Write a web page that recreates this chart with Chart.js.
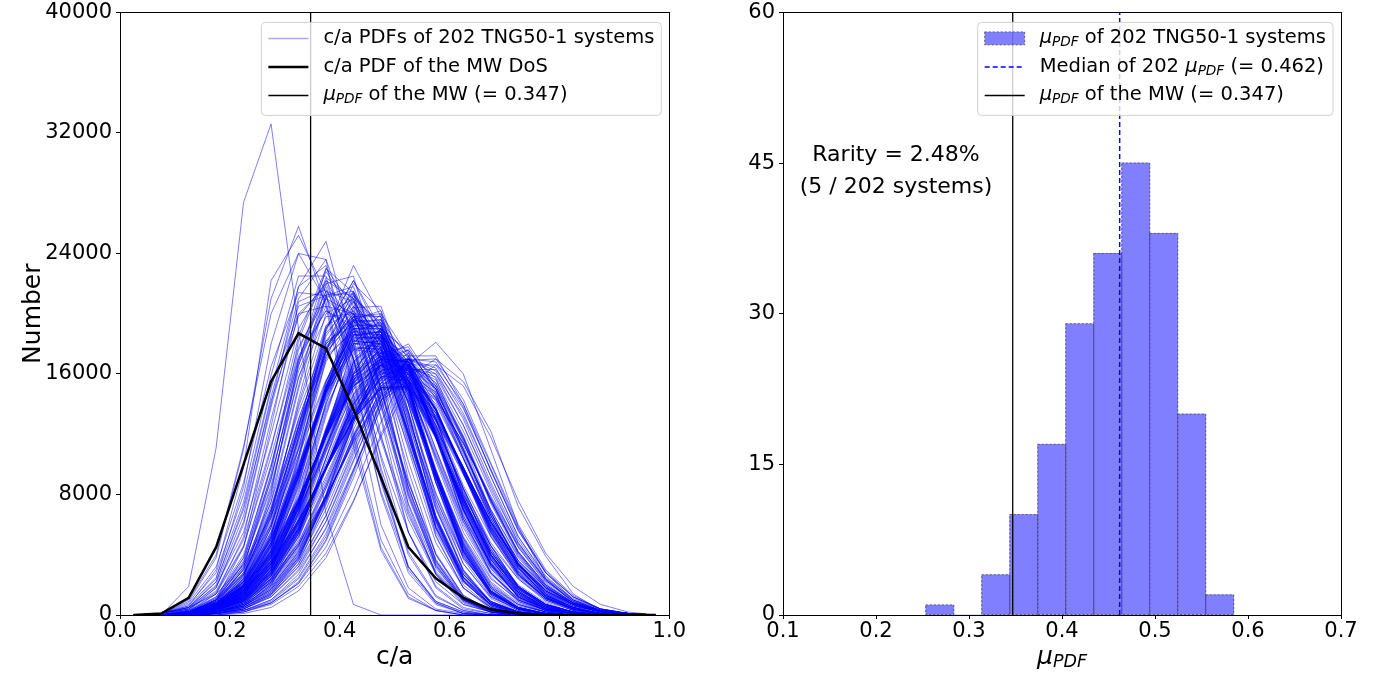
<!DOCTYPE html>
<html>
<head>
<meta charset="utf-8">
<script src="https://cdn.jsdelivr.net/npm/chart.js@4.4.1/dist/chart.umd.min.js"></script>
<style>
  body { margin: 0; background: #fff; }
  #wrap { position: relative; width: 1388px; height: 677px; }
  canvas { position: absolute; top: 0; }
</style>
</head>
<body>
<div id="wrap">
  <canvas id="pdfChart" width="690" height="677" style="left:0"></canvas>
  <canvas id="muChart" width="698" height="677" style="left:690px"></canvas>
</div>
<script>
// c/a bin centres shared by every PDF
var binCenters = [0.025, 0.075, 0.125, 0.175, 0.225, 0.275, 0.325, 0.375, 0.425, 0.475,
                  0.525, 0.575, 0.625, 0.675, 0.725, 0.775, 0.825, 0.875, 0.925, 0.975];

// PDF of the MW disc of satellites
var mwCurve = [0, 100, 1140, 4500, 10000, 15500, 18700, 17700, 13660, 9130,
               4510, 2440, 1140, 375, 100, 0, 0, 0, 0, 0];

// PDFs of the 202 TNG50-1 systems, counts in hundreds per bin
var curveUnit = 100;
var systemCurves = [
  [0,0,19,111,274,326,190,67,7,0,0,0,0,0,0,0,0,0,0,0],
  [0,1,9,38,110,210,258,205,112,43,11,3,0,0,0,0,0,0,0,0],
  [0,1,6,30,98,222,252,214,117,45,12,3,0,0,0,0,0,0,0,0],
  [0,1,5,24,85,180,240,236,146,60,18,4,1,0,0,0,0,0,0,0],
  [0,1,10,40,112,200,240,208,122,50,14,3,0,0,0,0,0,0,0,0],
  [0,1,7,28,80,159,225,225,159,80,28,7,1,0,0,0,0,0,0,0],
  [0,0,5,22,72,150,218,232,170,88,32,9,2,0,0,0,0,0,0,0],
  [0,1,8,32,88,165,214,212,155,82,32,9,2,0,0,0,0,0,0,0],
  [0,0,4,20,66,145,210,236,185,95,30,8,1,0,0,0,0,0,0,0],
  [0,1,6,25,75,152,200,218,170,98,40,12,3,0,0,0,0,0,0,0],
  [0,0,3,18,62,140,218,248,180,90,32,8,1,0,0,0,0,0,0,0],
  [0,1,5,22,70,142,198,220,180,104,42,13,3,0,0,0,0,0,0,0],
  [0,0,1,10,45,125,208,216,176,116,63,27,10,3,0,0,0,0,0,0],
  [0,0,2,14,52,130,200,205,170,118,66,29,10,3,1,0,0,0,0,0],
  [0,1,4,18,60,138,205,212,170,106,55,22,7,2,0,0,0,0,0,0],
  [0,1,5,19,55,120,190,222,190,120,55,19,5,1,0,0,0,0,0,0],
  [0,0,2,10,34,84,157,213,213,157,84,34,10,2,0,0,0,0,0,0],
  [0,0,3,14,45,110,185,230,205,130,55,18,4,1,0,0,0,0,0,0],
  [0,0,2,12,40,98,170,215,208,145,70,28,9,2,1,0,0,0,0,0],
  [0,1,4,16,50,112,178,210,192,132,68,27,8,2,0,0,0,0,0,0],
  [0,0,2,9,30,78,152,220,225,160,80,32,9,2,1,0,0,0,0,0],
  [0,0,3,12,38,92,162,205,200,150,85,37,12,3,1,0,0,0,0,0],
  [0,0,2,11,36,90,168,224,210,150,73,27,7,2,0,0,0,0,0,0],
  [0,0,4,15,46,105,172,202,192,140,78,33,10,3,0,0,0,0,0,0],
  [0,0,1,8,28,75,150,212,218,170,90,36,10,2,0,0,0,0,0,0],
  [0,0,2,10,34,86,158,198,200,160,96,40,13,3,0,0,0,0,0,0],
  [0,0,1,7,31,94,182,228,201,138,74,31,10,3,0,0,0,0,0,0],
  [0,0,2,9,35,98,176,215,196,140,80,35,11,3,0,0,0,0,0,0],
  [0,0,1,5,24,80,168,230,214,150,82,33,10,2,0,0,0,0,0,0],
  [0,0,2,10,38,100,170,202,190,143,88,41,13,3,0,0,0,0,0,0],
  [0,0,1,6,26,82,165,222,210,152,85,36,11,3,1,0,0,0,0,0],
  [0,0,1,8,32,90,166,210,200,150,88,40,12,2,0,0,0,0,0,0],
  [0,0,2,9,27,65,121,176,200,176,121,65,27,9,2,0,0,0,0,0],
  [0,0,1,6,22,60,125,190,215,180,115,55,22,7,2,0,0,0,0,0],
  [0,0,2,8,26,68,130,180,196,170,118,64,27,9,2,0,0,0,0,0],
  [0,0,1,5,18,52,115,190,222,190,120,57,22,7,1,0,0,0,0,0],
  [0,0,2,10,30,72,128,172,188,170,122,66,28,9,2,0,0,0,0,0],
  [0,0,1,7,24,62,122,182,205,178,122,63,25,7,1,0,0,0,0,0],
  [0,0,3,11,32,75,135,182,192,163,112,59,26,8,2,0,0,0,0,0],
  [0,0,1,5,20,55,118,185,212,188,125,58,23,7,2,0,0,0,0,0],
  [0,0,2,9,28,68,126,178,198,174,120,62,25,8,1,0,0,0,0,0],
  [0,0,1,6,21,58,120,187,208,182,126,62,22,6,1,0,0,0,0,0],
  [0,0,2,8,25,64,124,178,202,178,124,62,24,7,1,0,0,0,0,0],
  [0,0,1,4,16,48,110,188,232,198,125,53,18,5,1,0,0,0,0,0],
  [0,0,2,9,27,66,122,170,190,176,128,70,30,8,2,0,0,0,0,0],
  [0,0,1,5,19,53,112,176,210,194,135,65,23,6,1,0,0,0,0,0],
  [0,0,2,7,23,60,118,176,200,184,130,66,25,7,1,0,0,0,0,0],
  [0,0,1,6,20,54,110,168,198,188,140,74,30,9,2,0,0,0,0,0],
  [0,0,2,10,30,70,125,175,195,172,120,64,27,8,2,0,0,0,0,0],
  [0,0,1,5,17,47,104,175,220,202,135,64,23,5,1,0,0,0,0,0],
  [0,0,1,7,22,58,116,174,196,182,133,71,29,8,2,0,0,0,0,0],
  [0,0,1,4,20,65,143,211,215,167,102,48,18,5,1,0,0,0,0,0],
  [0,0,0,3,13,43,102,172,205,185,135,81,39,15,5,1,0,0,0,0],
  [0,0,1,5,22,68,140,200,210,170,110,52,18,4,0,0,0,0,0,0],
  [0,0,0,3,14,46,106,176,208,182,130,77,38,15,4,1,0,0,0,0],
  [0,0,1,6,24,70,138,192,202,170,114,58,20,5,0,0,0,0,0,0],
  [0,0,1,4,16,52,118,190,222,185,118,58,25,9,2,0,0,0,0,0],
  [0,0,0,2,10,38,96,170,212,192,140,80,38,16,5,1,0,0,0,0],
  [0,0,1,5,19,58,125,192,214,176,118,60,24,7,1,0,0,0,0,0],
  [0,0,1,7,26,70,130,180,198,172,120,64,25,6,1,0,0,0,0,0],
  [0,0,0,3,12,42,104,180,214,188,132,75,34,12,4,0,0,0,0,0],
  [0,0,1,5,16,43,91,151,193,193,151,91,43,16,5,1,0,0,0,0],
  [0,0,2,8,22,51,95,144,177,177,144,95,51,22,8,2,0,0,0,0],
  [0,0,1,4,14,40,88,150,198,200,154,92,40,14,4,1,0,0,0,0],
  [0,0,2,7,20,48,92,145,182,185,150,97,47,18,5,1,0,0,0,0],
  [0,0,1,5,17,45,94,155,196,190,146,88,42,15,4,1,0,0,0,0],
  [0,0,1,6,19,48,96,150,186,186,148,93,45,16,5,1,0,0,0,0],
  [0,0,2,8,22,52,98,148,178,176,142,94,50,20,7,2,0,0,0,0],
  [0,0,1,4,13,38,86,152,204,205,155,88,37,12,3,1,0,0,0,0],
  [0,0,1,5,16,44,92,150,190,192,152,93,44,15,4,1,0,0,0,0],
  [0,0,2,7,21,50,96,146,180,182,146,93,48,19,7,2,0,0,0,0],
  [0,0,1,5,15,42,90,154,200,198,150,88,40,13,3,0,0,0,0,0],
  [0,0,1,6,18,47,95,152,188,188,148,91,44,16,4,1,0,0,0,0],
  [0,0,2,8,23,53,99,148,176,174,142,95,51,21,7,2,0,0,0,0],
  [0,0,1,4,14,39,86,148,196,202,158,94,41,13,3,1,0,0,0,0],
  [0,0,1,6,18,46,93,150,190,190,150,92,43,15,4,1,0,0,0,0],
  [0,0,2,7,20,49,95,148,184,184,148,95,46,17,5,1,0,0,0,0],
  [0,0,1,5,16,43,90,150,195,196,152,92,42,14,4,1,0,0,0,0],
  [0,0,2,8,22,51,97,147,180,178,144,94,49,19,6,2,0,0,0,0],
  [0,0,1,4,15,41,88,151,198,198,152,90,42,14,4,1,0,0,0,0],
  [0,0,1,6,19,48,94,149,186,188,150,93,45,15,4,1,0,0,0,0],
  [0,0,2,7,21,50,97,150,182,180,146,93,47,18,5,1,0,0,0,0],
  [0,0,1,5,17,45,92,152,192,192,150,91,43,15,4,1,0,0,0,0],
  [0,0,1,6,18,46,93,148,185,188,152,95,46,16,4,1,0,0,0,0],
  [0,0,0,2,8,29,72,134,183,186,156,110,66,33,14,5,1,0,0,0],
  [0,1,5,14,33,66,110,156,186,183,134,72,29,8,2,0,0,0,0,0],
  [0,0,1,3,10,32,76,136,180,182,152,108,64,34,15,6,1,0,0,0],
  [0,0,2,10,28,60,106,155,188,186,140,78,34,11,2,0,0,0,0,0],
  [0,0,0,2,7,26,68,132,188,194,160,110,62,31,13,5,2,0,0,0],
  [0,0,1,6,20,50,98,152,190,190,145,88,42,14,4,0,0,0,0,0],
  [0,0,1,4,13,36,80,140,184,184,150,105,60,28,11,3,1,0,0,0],
  [0,0,1,5,16,40,84,138,176,180,152,106,62,28,9,2,1,0,0,0],
  [0,0,0,3,11,34,82,146,196,194,148,96,52,24,10,3,1,0,0,0],
  [0,0,2,8,24,55,100,150,182,180,142,90,46,16,4,1,0,0,0,0],
  [0,0,1,3,10,30,74,140,192,192,154,104,58,27,11,3,1,0,0,0],
  [0,0,1,5,18,46,92,148,186,188,150,96,48,18,4,0,0,0,0,0],
  [0,0,0,2,9,30,76,142,194,196,156,102,55,25,9,3,1,0,0,0],
  [0,0,1,4,14,35,72,120,164,181,164,120,72,35,14,4,1,0,0,0],
  [0,0,2,7,19,41,76,118,152,166,152,118,76,41,19,7,2,0,0,0],
  [0,0,1,3,11,30,66,118,168,188,168,122,70,34,13,4,1,0,0,0],
  [0,0,2,6,17,38,74,120,158,172,156,118,74,38,17,6,2,0,0,0],
  [0,0,1,5,15,36,72,118,160,176,162,122,74,37,15,5,1,0,0,0],
  [0,0,2,8,20,43,78,118,150,162,150,118,78,43,20,8,2,1,0,0],
  [0,0,1,4,13,34,71,122,166,184,166,118,70,34,12,4,1,0,0,0],
  [0,0,1,5,16,38,75,121,160,172,156,118,74,39,16,5,1,0,0,0],
  [0,0,2,7,18,40,76,119,154,166,154,119,76,40,18,7,2,0,0,0],
  [0,0,1,4,12,32,70,124,170,186,164,118,69,33,12,4,1,0,0,0],
  [0,0,1,5,15,37,74,120,162,176,160,120,73,37,15,5,1,0,0,0],
  [0,0,2,6,17,39,75,118,156,170,156,119,76,40,17,6,2,0,0,0],
  [0,0,1,3,11,30,67,122,172,190,166,118,68,32,12,4,1,0,0,0],
  [0,0,2,7,19,42,78,120,152,164,150,117,77,42,19,7,2,1,0,0],
  [0,0,1,4,14,35,73,121,164,180,163,120,71,35,13,4,1,0,0,0],
  [0,0,1,5,16,39,76,120,158,170,157,120,76,40,17,6,2,0,0,0],
  [0,0,1,4,13,33,70,121,167,185,166,120,70,34,12,3,1,0,0,0],
  [0,0,2,7,18,41,77,119,155,168,154,118,75,40,18,7,2,0,0,0],
  [0,0,1,5,15,36,73,121,163,178,162,120,72,36,14,4,1,0,0,0],
  [0,0,2,6,18,40,76,120,156,168,155,119,76,40,17,6,2,0,0,0],
  [0,0,1,4,12,33,71,123,168,184,165,119,70,33,12,4,1,0,0,0],
  [0,0,1,5,16,38,75,120,160,174,158,119,74,39,16,5,1,0,0,0],
  [0,0,1,3,10,28,64,122,178,196,170,118,64,29,10,3,1,0,0,0],
  [0,0,1,4,12,31,68,124,174,190,168,117,66,31,10,3,1,0,0,0],
  [0,0,1,3,9,26,62,120,180,200,172,120,64,28,10,3,1,0,0,0],
  [0,0,1,4,13,34,72,122,165,182,165,120,70,34,12,4,1,0,0,0],
  [0,0,1,5,15,37,74,121,161,175,160,120,73,37,15,5,1,0,0,0],
  [0,0,2,7,19,42,77,119,153,165,152,118,77,42,19,7,2,0,0,0],
  [0,0,1,4,12,32,70,122,168,186,166,120,70,33,12,3,1,0,0,0],
  [0,0,0,2,7,22,54,101,146,166,156,129,93,60,34,17,7,3,1,0],
  [0,0,3,8,19,39,70,109,147,170,168,131,79,37,14,4,1,0,0,0],
  [0,0,0,2,6,20,50,98,146,172,162,130,94,58,34,17,7,3,1,0],
  [0,0,1,5,15,36,72,118,158,174,160,122,78,38,16,5,2,0,0,0],
  [0,0,0,3,10,28,62,110,156,178,164,124,80,46,24,10,4,1,0,0],
  [0,0,2,6,16,36,68,112,152,170,162,126,82,42,18,6,2,0,0,0],
  [0,0,0,2,8,24,58,108,156,185,172,130,80,44,18,7,2,1,0,0],
  [0,0,1,4,12,30,64,112,156,176,164,126,82,44,19,7,2,0,0,0],
  [0,0,0,1,6,20,52,104,160,190,175,130,80,46,19,7,2,0,0,0],
  [0,0,1,4,14,34,68,114,154,170,160,126,84,46,18,5,2,0,0,0],
  [0,0,0,2,8,24,56,104,150,174,166,130,86,52,26,12,4,1,0,0],
  [0,0,1,3,10,28,62,112,160,190,174,122,78,40,15,4,1,0,0,0],
  [0,0,2,7,18,40,74,116,152,166,156,124,84,40,16,4,1,0,0,0],
  [0,0,0,2,7,22,54,104,154,178,166,128,84,48,24,9,3,1,0,0],
  [0,0,1,4,13,32,66,112,154,172,162,126,84,46,19,6,2,0,0,0],
  [0,0,0,3,9,26,60,110,158,182,168,124,78,42,18,6,2,0,0,0],
  [0,0,1,4,12,29,57,97,137,163,163,137,97,57,29,12,4,1,0,0],
  [0,0,2,7,16,34,62,97,130,151,151,130,97,62,34,16,7,2,0,0],
  [0,0,1,3,10,26,55,98,142,170,168,136,94,54,27,11,4,1,0,0],
  [0,0,1,5,14,32,60,98,134,156,156,134,98,60,32,14,5,1,0,0],
  [0,0,1,4,11,27,56,98,140,166,164,137,96,56,28,11,4,1,0,0],
  [0,0,2,6,15,33,61,98,132,152,152,132,98,62,34,15,6,2,1,0],
  [0,0,1,3,9,24,52,96,144,174,172,138,94,52,25,10,3,1,0,0],
  [0,0,1,4,13,30,58,97,136,160,160,136,97,58,30,13,4,1,0,0],
  [0,0,2,7,17,35,63,98,130,150,150,129,96,61,33,16,7,2,1,0],
  [0,0,1,4,11,28,57,98,139,165,163,136,96,57,28,11,4,1,0,0],
  [0,0,1,5,14,31,59,97,134,158,158,135,98,59,31,13,5,1,0,0],
  [0,0,1,3,10,25,54,98,143,172,168,136,94,53,26,11,4,1,0,0],
  [0,0,2,6,16,34,62,98,131,151,151,131,98,62,34,16,6,2,0,0],
  [0,0,1,4,12,29,58,98,138,162,162,136,96,57,29,12,4,1,0,0],
  [0,0,1,5,15,33,61,97,132,154,154,133,98,61,33,15,5,1,0,0],
  [0,0,1,3,10,26,55,97,141,170,168,137,95,55,27,10,3,1,0,0],
  [0,0,2,6,16,34,62,97,130,151,152,132,98,62,33,15,6,2,1,0],
  [0,0,1,4,12,28,57,98,139,166,164,136,95,56,28,11,4,1,0,0],
  [0,0,1,5,14,32,60,98,135,157,156,134,97,59,31,13,5,1,0,0],
  [0,0,1,3,11,27,56,98,140,168,166,136,95,55,27,11,4,1,0,0],
  [0,0,2,7,17,35,63,97,130,150,150,130,97,62,34,16,7,2,0,0],
  [0,0,1,4,13,30,58,97,137,161,161,136,97,58,30,12,4,1,0,0],
  [0,0,1,5,14,31,60,98,135,158,158,134,97,59,31,13,5,1,0,0],
  [0,0,1,4,11,27,57,99,140,167,165,136,95,55,27,11,4,1,0,0],
  [0,0,0,1,4,14,37,79,131,168,170,147,109,70,39,19,8,3,1,0],
  [0,0,1,2,8,20,43,79,123,159,174,157,115,69,33,13,4,1,0,0],
  [0,0,0,2,6,17,40,80,128,164,170,146,108,70,38,18,7,3,1,0],
  [0,0,1,3,9,22,46,84,126,158,166,150,112,68,34,14,5,1,0,0],
  [0,0,0,1,5,15,38,80,134,174,178,148,104,62,33,16,7,3,1,0],
  [0,0,1,4,11,26,52,90,132,160,164,142,104,64,32,12,4,1,0,0],
  [0,0,0,2,5,16,38,78,128,166,176,150,110,66,35,16,6,2,1,0],
  [0,0,1,3,10,24,48,86,128,158,164,146,110,68,34,14,5,1,0,0],
  [0,0,0,1,4,13,34,74,128,170,180,152,110,68,36,18,8,3,1,0],
  [0,0,1,3,9,23,48,88,132,162,166,144,106,64,34,14,4,1,0,0],
  [0,0,0,2,6,18,42,84,132,166,170,144,104,66,36,18,8,3,1,0],
  [0,0,1,4,12,28,54,92,132,158,160,140,104,64,32,13,5,1,0,0],
  [0,0,0,1,5,14,36,78,130,170,176,150,108,66,36,18,8,3,1,0],
  [0,0,1,2,8,21,46,86,130,162,170,150,110,66,32,12,3,1,0,0],
  [0,0,0,2,7,19,41,76,118,152,166,152,118,76,41,19,7,2,0,0],
  [0,0,1,4,11,24,47,79,114,143,153,143,114,79,47,24,11,4,1,0],
  [0,0,0,1,4,12,29,57,97,137,163,163,137,97,57,29,12,4,1,0],
  [0,0,0,2,6,17,39,75,120,156,170,154,118,74,40,18,7,2,1,0],
  [0,0,1,3,9,22,45,78,116,146,160,145,114,77,45,22,9,3,1,0],
  [0,0,0,2,7,18,40,76,119,154,168,152,117,75,41,19,7,2,0,0],
  [0,0,0,2,5,15,34,66,108,145,164,158,126,86,48,23,9,3,1,0],
  [0,0,1,3,10,23,46,79,115,145,155,144,114,78,46,23,10,3,1,0],
  [0,0,0,2,7,19,42,77,119,152,164,150,117,76,42,20,8,2,1,0],
  [0,0,0,1,5,14,32,62,103,142,164,160,132,92,52,25,10,3,1,0],
  [0,0,1,3,9,21,44,77,116,148,160,148,116,76,42,20,8,3,1,0],
  [0,0,0,2,6,17,38,73,117,154,168,154,119,77,42,20,8,2,1,0],
  [0,0,0,2,6,16,36,70,112,150,166,156,122,82,45,21,8,3,1,0],
  [0,0,0,1,2,8,21,49,91,138,169,170,143,101,60,30,13,4,1,0],
  [0,0,0,1,3,10,25,54,96,140,166,166,140,100,58,28,10,3,0,0],
  [0,0,0,1,4,12,30,62,106,148,170,162,130,88,50,24,9,3,1,0],
  [0,0,0,0,2,8,22,50,94,142,172,172,140,96,56,28,12,4,1,0],
  [0,0,0,1,4,13,32,66,110,150,170,160,126,84,48,23,9,3,1,0],
  [0,0,0,1,3,9,24,52,96,142,170,168,138,96,56,28,12,4,1,0],
  [0,0,0,1,3,10,27,58,102,146,170,164,134,92,52,26,10,4,1,0],
  [0,0,0,0,2,7,19,41,76,118,152,166,152,118,76,41,19,7,2,0],
  [0,0,0,0,3,8,21,45,83,128,166,181,160,110,59,24,8,2,0,0],
  [0,0,0,0,1,5,16,38,75,120,158,170,155,122,72,39,14,3,1,0]
];

var mwMu = 0.347;
var medianMu = 0.462;

// histogram of mu_PDF over the 202 systems
var muBinCenters = [0.2686, 0.2987, 0.3288, 0.3589, 0.3890, 0.4191,
                    0.4492, 0.4793, 0.5094, 0.5395, 0.5696];
var muCounts = [1, 0, 4, 10, 17, 29, 36, 45, 38, 20, 2];

// axis ticks
var caTicks = [0, 0.2, 0.4, 0.6, 0.8, 1.0];
var numberTicks = [0, 8000, 16000, 24000, 32000, 40000];
var muTicks = [0.1, 0.2, 0.3, 0.4, 0.5, 0.6, 0.7];
var countTicks = [0, 15, 30, 45, 60];

var FONT = '"DejaVu Sans", sans-serif';
Chart.defaults.font.family = FONT;
Chart.defaults.color = '#000';
Chart.defaults.animation = false;

// text with an italic mu and subscript "PDF"
function richParts(before, after) {
  var p = [];
  if (before) p.push({t: before});
  p.push({t: 'μ', it: true}, {t: 'PDF', it: true, sub: true});
  if (after) p.push({t: after});
  return p;
}

function drawRich(ctx, parts, x, y, size, measureOnly) {
  var x0 = x;
  parts.forEach(function (p) {
    var fs = p.sub ? size * 0.7 : size;
    ctx.font = (p.it ? 'italic ' : '') + fs + 'px ' + FONT;
    if (!measureOnly) ctx.fillText(p.t, x, y + (p.sub ? size * 0.22 : 0));
    x += ctx.measureText(p.t).width;
  });
  return x - x0;
}

function roundBox(ctx, x, y, w, h, r) {
  ctx.beginPath();
  ctx.moveTo(x + r, y);
  ctx.arcTo(x + w, y, x + w, y + h, r);
  ctx.arcTo(x + w, y + h, x, y + h, r);
  ctx.arcTo(x, y + h, x, y, r);
  ctx.arcTo(x, y, x + w, y, r);
  ctx.closePath();
}

// legend box in the upper right of the plot area
function drawLegend(chart, entries) {
  var ctx = chart.ctx, area = chart.chartArea, size = 19.5;
  ctx.save();
  ctx.textBaseline = 'middle';
  var textW = 0;
  entries.forEach(function (e) { textW = Math.max(textW, drawRich(ctx, e.text, 0, 0, size, true)); });
  var w = 7 + 40 + 15 + textW + 7, h = 93;
  var x = area.right - 8 - w, y = area.top + 10;
  roundBox(ctx, x, y, w, h, 4);
  ctx.fillStyle = 'rgba(255,255,255,0.8)';
  ctx.fill();
  ctx.strokeStyle = '#d2d2d2';
  ctx.lineWidth = 1;
  ctx.stroke();
  entries.forEach(function (e, i) {
    var cy = y + 16 + i * 28.5;
    e.handle(ctx, x + 7, cy, 40);
    ctx.fillStyle = '#000';
    drawRich(ctx, e.text, x + 62, cy, size);
  });
  ctx.restore();
}

function lineHandle(color, width, dash) {
  return function (ctx, x, y, w) {
    ctx.save();
    ctx.strokeStyle = color;
    ctx.lineWidth = width;
    ctx.setLineDash(dash || []);
    ctx.beginPath();
    ctx.moveTo(x, y);
    ctx.lineTo(x + w, y);
    ctx.stroke();
    ctx.restore();
  };
}

var framePlugin = {
  id: 'frame',
  afterDraw: function (chart) {
    var a = chart.chartArea, ctx = chart.ctx;
    ctx.save();
    ctx.strokeStyle = '#000';
    ctx.lineWidth = 1;
    ctx.strokeRect(Math.round(a.left) + 0.5, Math.round(a.top) + 0.5,
                   Math.round(a.right - a.left), Math.round(a.bottom - a.top));
    ctx.restore();
  }
};

function axisOpts(min, max, ticks, fmt, fit) {
  return {
    type: 'linear', min: min, max: max, offset: false,
    afterBuildTicks: function (s) { s.ticks = ticks.map(function (v) { return {value: v}; }); },
    ticks: { autoSkip: false, font: { size: 21, lineHeight: 0.8 }, padding: 4, color: '#000',
             callback: fmt },
    grid: { offset: false, drawOnChartArea: false, drawTicks: true, tickLength: 4, tickColor: '#000' },
    border: { display: true, color: '#000' },
    afterFit: fit
  };
}

// ---- left panel: c/a PDFs ----
var pdfSets = systemCurves.map(function (row) {
  return {
    data: binCenters.map(function (c, i) { return {x: c, y: row[i] * curveUnit}; }),
    borderColor: 'rgba(0,0,255,0.5)', borderWidth: 1, pointRadius: 0, order: 3
  };
});
pdfSets.push({
  data: binCenters.map(function (c, i) { return {x: c, y: mwCurve[i]}; }),
  borderColor: '#000', borderWidth: 2.5, pointRadius: 0, order: 1
});
pdfSets.push({
  data: [{x: mwMu, y: 0}, {x: mwMu, y: 40000}],
  borderColor: '#000', borderWidth: 1.3, pointRadius: 0, order: 0
});

var xLeft = axisOpts(0, 1, caTicks, function (v) { return v.toFixed(1); },
                     function (s) { s.height = 62; });
xLeft.title = { display: true, text: 'c/a', font: { size: 25 }, padding: { bottom: 5 } };
var yLeft = axisOpts(0, 40000, numberTicks, function (v) { return String(v); },
                     function (s) { s.width = 120; });
yLeft.title = { display: true, text: 'Number', font: { size: 25 }, padding: { top: 18 } };

new Chart(document.getElementById('pdfChart'), {
  type: 'line',
  data: { datasets: pdfSets },
  options: {
    responsive: false,
    layout: { padding: { left: 0, right: 18, top: 9, bottom: 0 } },
    plugins: { legend: { display: false }, tooltip: { enabled: false } },
    elements: { line: { tension: 0 } },
    scales: { x: xLeft, y: yLeft }
  },
  plugins: [framePlugin, {
    id: 'pdfLegend',
    afterDraw: function (chart) {
      drawLegend(chart, [
        { text: [{t: 'c/a PDFs of 202 TNG50-1 systems'}], handle: lineHandle('rgba(0,0,255,0.35)', 1.5) },
        { text: [{t: 'c/a PDF of the MW DoS'}], handle: lineHandle('#000', 2.5) },
        { text: richParts('', ' of the MW (= 0.347)'), handle: lineHandle('#000', 1.5) }
      ]);
    }
  }]
});

// ---- right panel: distribution of mu_PDF ----
var barEdgePlugin = {
  id: 'barEdges',
  afterDatasetDraw: function (chart, args) {
    if (args.index !== 0) return;
    var ctx = chart.ctx;
    ctx.save();
    ctx.setLineDash([2, 2]);
    ctx.strokeStyle = 'rgba(80,80,80,0.85)';
    ctx.lineWidth = 1;
    args.meta.data.forEach(function (bar, i) {
      if (!muCounts[i]) return;
      var p = bar.getProps(['x', 'y', 'base', 'width'], true);
      ctx.strokeRect(p.x - p.width / 2, p.y, p.width, p.base - p.y);
    });
    ctx.restore();
  }
};

var xRight = axisOpts(0.1, 0.7, muTicks, function (v) { return v.toFixed(1); },
                      function (s) { s.height = 62; });
var yRight = axisOpts(0, 60, countTicks, function (v) { return String(v); },
                      function (s) { s.width = 93; });

new Chart(document.getElementById('muChart'), {
  type: 'bar',
  data: {
    datasets: [{
      type: 'bar',
      data: muBinCenters.map(function (c, i) { return {x: c, y: muCounts[i]}; }),
      backgroundColor: 'rgba(0,0,255,0.5)', borderWidth: 0,
      barPercentage: 1, categoryPercentage: 1, order: 2
    }, {
      type: 'line',
      data: [{x: medianMu, y: 0}, {x: medianMu, y: 60}],
      borderColor: '#0000ff', borderWidth: 1.5, borderDash: [5, 3], pointRadius: 0, order: 1
    }, {
      type: 'line',
      data: [{x: mwMu, y: 0}, {x: mwMu, y: 60}],
      borderColor: '#000', borderWidth: 1.3, pointRadius: 0, order: 0
    }]
  },
  options: {
    responsive: false,
    layout: { padding: { left: 0, right: 47, top: 9, bottom: 0 } },
    plugins: { legend: { display: false }, tooltip: { enabled: false } },
    scales: { x: xRight, y: yRight }
  },
  plugins: [framePlugin, barEdgePlugin, {
    id: 'muNotes',
    afterDraw: function (chart) {
      var ctx = chart.ctx, a = chart.chartArea;
      var xs = chart.scales.x, ys = chart.scales.y;
      ctx.save();
      ctx.fillStyle = '#000';
      ctx.textAlign = 'center';
      ctx.textBaseline = 'middle';
      ctx.font = '22px ' + FONT;
      var tx = xs.getPixelForValue(0.2215);
      ctx.fillText('Rarity = 2.48%', tx, ys.getPixelForValue(45.75));
      ctx.fillText('(5 / 202 systems)', tx, ys.getPixelForValue(42.55));
      // x axis title
      ctx.textAlign = 'left';
      var title = richParts('', '');
      var tw = drawRich(ctx, title, 0, 0, 25, true);
      drawRich(ctx, title, (a.left + a.right) / 2 - tw / 2, 657, 25);
      ctx.restore();

      drawLegend(chart, [
        { text: richParts('', ' of 202 TNG50-1 systems'),
          handle: function (c, x, y, w) {
            c.save();
            c.fillStyle = 'rgba(0,0,255,0.5)';
            c.fillRect(x, y - 6.5, w, 13);
            c.setLineDash([2, 2]);
            c.strokeStyle = 'rgba(80,80,80,0.85)';
            c.strokeRect(x, y - 6.5, w, 13);
            c.restore();
          } },
        { text: richParts('Median of 202 ', ' (= 0.462)'), handle: lineHandle('#0000ff', 1.5, [5, 3]) },
        { text: richParts('', ' of the MW (= 0.347)'), handle: lineHandle('#000', 1.5) }
      ]);
    }
  }]
});
</script>
</body>
</html>
